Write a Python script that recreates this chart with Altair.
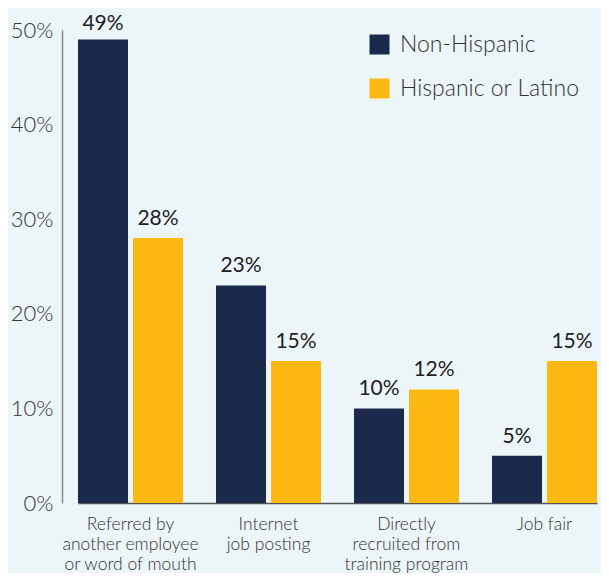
import altair as alt
import pandas as pd

categories = ["Referred by|another employee|or word of mouth",
              "Internet|job posting",
              "Directly|recruited from|training program",
              "Job fair"]
series = ["Non-Hispanic", "Hispanic or Latino"]
non_hispanic = [49, 23, 10, 5]
hispanic = [28, 15, 12, 15]
y_ticks = [0, 10, 20, 30, 40, 50]
colors = ["#1b2a4c", "#fdb913"]

rows = []
for c, a, b in zip(categories, non_hispanic, hispanic):
    rows.append({"cat": c, "group": series[0], "value": a})
    rows.append({"cat": c, "group": series[1], "value": b})
df = pd.DataFrame(rows)
df["label"] = df["value"].astype(str) + "%"

FONT = "Lato"

x = alt.X("cat:N", sort=categories, title=None,
          scale=alt.Scale(range=[16, 535], paddingInner=0.239, paddingOuter=0),
          axis=alt.Axis(labelExpr="split(datum.label, '|')", labelAngle=0,
                        labelFontSize=17.5, labelLineHeight=20, labelColor="#333333",
                        labelFont=FONT, labelFontWeight=300, labelPadding=12,
                        ticks=False, domainColor="#555555", domainWidth=1.5,
                        labelBaseline="top", labelLimit=0))
xo = alt.XOffset("group:N", sort=series,
                 scale=alt.Scale(paddingInner=0.0909, paddingOuter=0))
y = alt.Y("value:Q", title=None,
          scale=alt.Scale(domain=[0, 50], nice=False),
          axis=alt.Axis(values=y_ticks, labelExpr="datum.value + '%'", grid=False,
                        ticks=False, labelFontSize=22, labelColor="#333333",
                        labelFont=FONT, labelFontWeight=300, labelPadding=9,
                        domainColor="#888888", domainWidth=1.5))
color = alt.Color("group:N", sort=series,
                  scale=alt.Scale(domain=series, range=colors),
                  legend=alt.Legend(title=None, orient="none", legendX=306, legendY=3,
                                    symbolType="square", symbolSize=400,
                                    symbolStrokeWidth=0, labelFontSize=23,
                                    labelFont=FONT, labelFontWeight=300,
                                    labelColor="#333333", labelLimit=0,
                                    labelOffset=9, rowPadding=20, padding=0))

base = alt.Chart(df)
bars = base.mark_bar().encode(x=x, xOffset=xo, y=y, color=color)
text = base.transform_calculate(
    label_y="min(datum.value, 48.6)"
).mark_text(baseline="alphabetic", dy=-13, fontSize=21, font=FONT,
            color="#222222").encode(
    x=x, xOffset=xo,
    y=alt.Y("label_y:Q", scale=alt.Scale(domain=[0, 50], nice=False)),
    text="label:N")

chart = alt.layer(bars, text).properties(
    width=539, height=473,
    autosize=alt.AutoSizeParams(type="none"),
    padding={"left": 54, "top": 22, "right": 0, "bottom": 70},
    background="#ecf5f8",
).configure_view(stroke=None)

chart.save("out.html", embed_options={"renderer": "svg", "actions": False})
